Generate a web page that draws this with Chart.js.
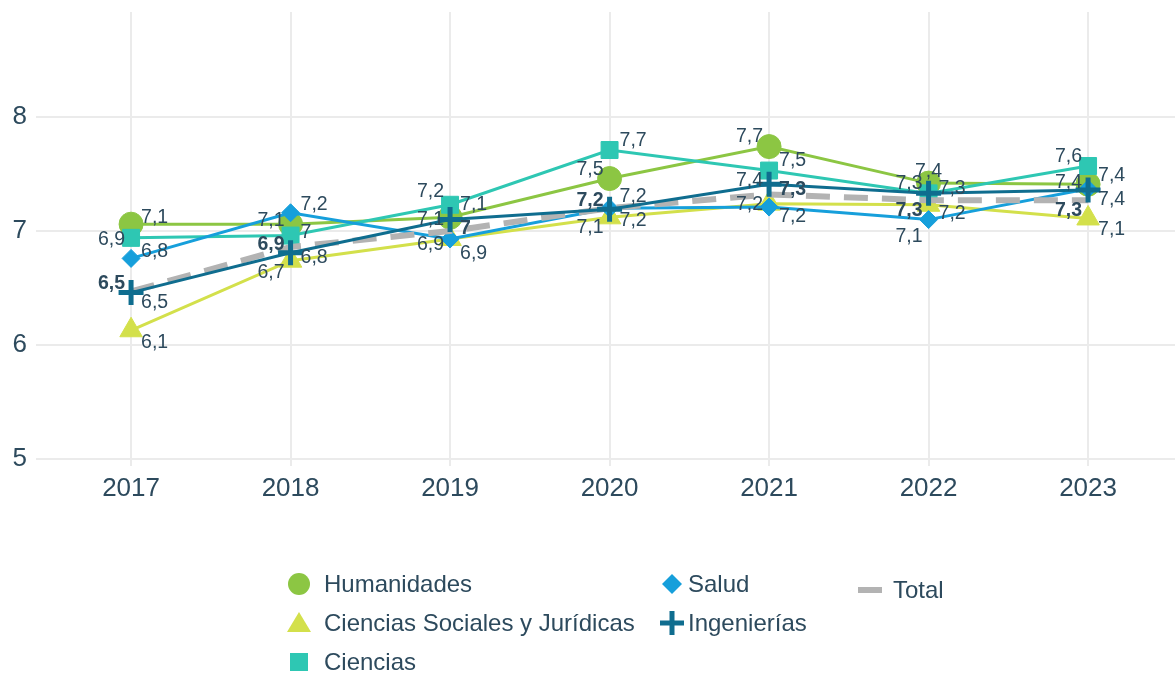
<!DOCTYPE html>
<html><head><meta charset="utf-8">
<script src="https://cdn.jsdelivr.net/npm/chart.js@4.4.0/dist/chart.umd.min.js"></script>
<style>html,body{margin:0;padding:0;background:#fff;}#wrap{width:1175px;height:673px;}</style>
</head><body><div id="wrap"><canvas id="c" width="1175" height="673"></canvas></div>
<script>
// ---- data ----
const years = [2017, 2018, 2019, 2020, 2021, 2022, 2023];
const humanidades = [7.06, 7.06, 7.12, 7.46, 7.74, 7.42, 7.41];
const cienciasSociales = [6.13, 6.74, 6.93, 7.12, 7.24, 7.23, 7.11];
const ciencias = [6.94, 6.96, 7.23, 7.71, 7.53, 7.33, 7.57];
const salud = [6.76, 7.16, 6.93, 7.20, 7.21, 7.10, 7.37];
const ingenierias = [6.46, 6.81, 7.10, 7.19, 7.41, 7.33, 7.36];
const total = [6.47, 6.86, 7.00, 7.20, 7.32, 7.27, 7.27];
const yTickValues = [5, 6, 7, 8];

// ---- label placement (layout only) ----
const posHum = [['r',-7],['l',-4],['r',-13],['l',-9],['l',-10],['c',-11],['r',-9]];
const posCSJ = [['r',12],['l',12],['l',6],['l',10],['l',1],['r',9],['r',11]];
const posCie = [['l',2],['r',-3],['l',-13],['r',-9],['r',-10],['l',-10],['l',-9]];
const posSal = [['r',-7],['r',-8],['r',15],['r',12],['r',10],['l',17],['r',11]];
const posIng = [['r',10],['r',5],['l',0],['r',-13],['l',-4],['r',-5],['l',-7]];
const posTot = [['l',-8],['l',-2],['r',-2],['l',-8],['r',-5],['l',10],['l',10]];

const TXT = '#2d4a5d';
const FONT = "'Liberation Sans', Arial, sans-serif";
Chart.defaults.font.family = FONT;

function mk(values){ return values.map((v,i)=>({x: years[i], y: v})); }

const C = {
  hum: '#8cc643', csj: '#d3e04b', cie: '#2ec7b3', sal: '#169fdb', ing: '#0f6d8f', tot: '#b3b3b3'
};

const datasets = [
  {label:'Humanidades', data: mk(humanidades), borderColor:C.hum, backgroundColor:C.hum, borderWidth:3,
   pointStyle:'circle', pointRadius:12, pointBorderWidth:1, order:5, labelPos:posHum},
  {label:'Ciencias Sociales y Jurídicas', data: mk(cienciasSociales), borderColor:C.csj, backgroundColor:C.csj, borderWidth:3,
   pointStyle:'triangle', pointRadius:13, pointBorderWidth:1, order:4, labelPos:posCSJ},
  {label:'Ciencias', data: mk(ciencias), borderColor:C.cie, backgroundColor:C.cie, borderWidth:3,
   pointStyle:'rect', pointRadius:12, pointBorderWidth:1, order:3, labelPos:posCie},
  {label:'Salud', data: mk(salud), borderColor:C.sal, backgroundColor:C.sal, borderWidth:3,
   pointStyle:'rectRot', pointRadius:9, pointBorderWidth:1, order:2, labelPos:posSal},
  {label:'Ingenierías', data: mk(ingenierias), borderColor:C.ing, backgroundColor:C.ing, borderWidth:3,
   pointStyle:'cross', pointRadius:12.5, pointBorderWidth:5, order:0, labelPos:posIng},
  {label:'Total', data: mk(total), borderColor:C.tot, backgroundColor:C.tot, borderWidth:6, borderDash:[24,14],
   pointRadius:0, order:1, labelPos:posTot, bold:true}
];
datasets.forEach(d=>{ d.tension = 0; d.pointHoverRadius = d.pointRadius; });

const labelPlugin = {
  id: 'vlabels',
  afterDatasetsDraw(chart){
    const ctx = chart.ctx;
    ctx.save();
    ctx.fillStyle = TXT;
    ctx.textBaseline = 'middle';
    chart.data.datasets.forEach((ds, i) => {
      const meta = chart.getDatasetMeta(i);
      ctx.font = (ds.bold ? 'bold ' : '') + '19.5px ' + FONT;
      meta.data.forEach((pt, j) => {
        const v = ds.data[j].y;
        let t = v.toFixed(1).replace('.', ',');
        if (t.endsWith(',0')) t = t.slice(0, -2);
        const [side, dy] = ds.labelPos[j];
        let x = pt.x;
        if (side === 'r') { ctx.textAlign = 'left'; x += 10; }
        else if (side === 'l') { ctx.textAlign = 'right'; x -= 6; }
        else { ctx.textAlign = 'center'; }
        ctx.fillText(t, x, pt.y + dy);
      });
    });
    ctx.restore();
  }
};

const legendPlugin = {
  id: 'customLegend',
  afterDraw(chart){
    const ctx = chart.ctx;
    ctx.save();
    const items = [
      {ds:0, mx:299, my:584, tx:324},
      {ds:1, mx:299, my:623, tx:324},
      {ds:2, mx:299, my:662, tx:324},
      {ds:3, mx:672, my:584, tx:688},
      {ds:4, mx:672, my:623, tx:688},
      {ds:5, mx:870, my:590, tx:893}
    ];
    items.forEach(it => {
      const ds = chart.data.datasets[it.ds];
      const col = ds.borderColor;
      ctx.fillStyle = col; ctx.strokeStyle = col;
      const x = it.mx, y = it.my;
      ctx.beginPath();
      if (ds.pointStyle === 'circle') { ctx.arc(x, y, 11, 0, Math.PI*2); ctx.fill(); }
      else if (ds.pointStyle === 'triangle') {
        ctx.moveTo(x, y-11); ctx.lineTo(x+12, y+9); ctx.lineTo(x-12, y+9); ctx.closePath(); ctx.fill();
      }
      else if (ds.pointStyle === 'rect') { ctx.fillRect(x-9, y-9, 18, 18); }
      else if (ds.pointStyle === 'rectRot') {
        ctx.moveTo(x, y-10); ctx.lineTo(x+10, y); ctx.lineTo(x, y+10); ctx.lineTo(x-10, y); ctx.closePath(); ctx.fill();
      }
      else if (ds.pointStyle === 'cross') {
        ctx.lineWidth = 5;
        ctx.moveTo(x-12, y); ctx.lineTo(x+12, y); ctx.moveTo(x, y-12); ctx.lineTo(x, y+12); ctx.stroke();
      }
      else { ctx.fillRect(x-12, y-3, 24, 6); }
      ctx.fillStyle = TXT;
      ctx.font = '24px ' + FONT;
      ctx.textAlign = 'left'; ctx.textBaseline = 'middle';
      ctx.fillText(ds.label, it.tx, y + 1);
    });
    ctx.restore();
  }
};

function noPad(ax){ ax.paddingTop = 0; ax.paddingBottom = 0; ax.paddingLeft = 0; ax.paddingRight = 0; }

new Chart(document.getElementById('c'), {
  type: 'line',
  data: { datasets },
  options: {
    responsive: false,
    animation: false,
    layout: { autoPadding: false, padding: { top: 12, right: 0, left: 0, bottom: 0 } },
    plugins: { legend: { display: false }, tooltip: { enabled: false } },
    scales: {
      x: {
        type: 'linear', min: 2016.404, max: 2023.545,
        afterBuildTicks: (ax) => { ax.ticks = years.map(v => ({ value: v })); },
        afterFit: (ax) => { ax.height = 207; noPad(ax); },
        ticks: { color: TXT, font: { size: 26 }, padding: 7, callback: (v) => String(v), maxRotation: 0, autoSkip: false },
        grid: { color: '#ebebeb', lineWidth: 2, drawTicks: false },
        border: { display: false }
      },
      y: {
        type: 'linear', min: 4.94, max: 8.92,
        afterBuildTicks: (ax) => { ax.ticks = yTickValues.map(v => ({ value: v })); },
        afterFit: (ax) => { ax.width = 36; noPad(ax); },
        ticks: { color: TXT, font: { size: 26 }, padding: 9 },
        grid: { color: '#ebebeb', lineWidth: 2, drawTicks: false },
        border: { display: false }
      }
    }
  },
  plugins: [labelPlugin, legendPlugin]
});
</script></body></html>
